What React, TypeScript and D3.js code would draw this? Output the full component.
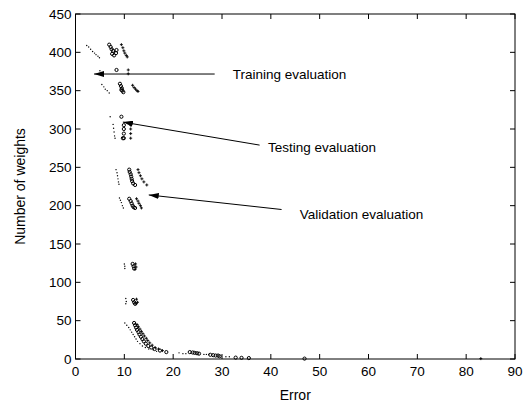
import React from 'react';
import * as d3 from 'd3';

// training evaluation: tiny dots
const trainingPoints: [number, number][] = [
  [2.3, 409], [2.7, 407], [3.1, 404], [3.5, 401], [3.9, 399], [4.2, 397], [4.6, 395], [4.9, 393],
  [5.0, 376],
  [5.4, 358], [5.8, 355], [6.1, 352], [6.5, 350], [6.9, 347],
  [7.1, 316], [7.7, 306], [7.8, 301], [7.9, 296], [8.0, 291], [8.1, 288],
  [8.3, 247], [8.5, 243], [8.6, 239], [8.7, 235], [8.8, 231], [8.9, 228],
  [9.0, 210], [9.2, 207], [9.4, 204], [9.6, 200], [9.8, 197],
  [10.0, 124], [10.1, 121], [10.1, 118],
  [10.3, 79], [10.4, 75], [10.3, 72],
  [10.1, 47], [10.5, 44], [10.9, 41], [11.2, 38], [11.5, 35], [11.8, 32], [12.1, 29], [12.4, 26],
  [12.7, 23], [13.2, 20], [13.7, 17], [14.3, 15], [15.0, 13], [15.9, 12], [16.6, 10],
  [21.2, 8], [22.0, 7], [22.6, 7], [26.3, 6], [26.8, 6], [27.3, 6], [30.8, 3], [31.5, 3],
];

// testing evaluation: small circles
const testingPoints: [number, number][] = [
  [6.9, 410], [7.2, 407], [7.4, 404], [7.7, 402], [7.5, 398], [7.9, 396], [8.3, 399], [8.4, 403],
  [8.4, 377],
  [9.1, 359], [9.3, 356], [9.5, 353], [9.4, 351], [9.6, 350], [9.8, 348],
  [9.4, 316], [9.9, 305], [9.9, 300], [9.9, 294], [9.9, 288], [9.7, 288],
  [11.0, 247], [11.1, 244], [11.3, 241], [11.4, 238], [11.5, 235], [11.6, 232], [11.8, 229], [12.2, 227],
  [11.0, 209], [11.3, 206], [11.5, 203], [11.7, 200], [11.9, 198], [12.2, 197],
  [11.7, 124], [11.9, 121], [12.0, 118],
  [11.8, 77], [12.0, 74], [12.2, 72],
  [12.0, 47], [12.2, 44], [12.4, 41], [12.6, 38], [12.9, 35], [13.1, 32], [13.4, 29], [13.7, 26],
  [14.0, 23], [14.4, 20], [14.9, 17], [15.5, 15], [16.2, 13], [17.3, 11], [18.6, 9],
  [23.4, 9], [24.0, 8.5], [24.4, 8], [24.9, 7.5], [25.3, 7], [27.6, 5.5], [28.2, 5], [28.7, 4.5],
  [29.2, 4.5], [29.5, 3.6], [32.8, 1.8], [34.0, 1.5], [35.5, 1.2], [46.9, 0.5],
];

// validation evaluation: plus signs
const validationPoints: [number, number][] = [
  [9.4, 410], [9.7, 406], [9.9, 402], [10.1, 399], [10.4, 396], [10.6, 394],
  [10.8, 377], [10.8, 372],
  [11.7, 357], [12.0, 354], [12.3, 352], [12.6, 350], [12.8, 349],
  [11.3, 305], [11.3, 300], [11.3, 294], [11.3, 288],
  [12.8, 247], [13.0, 243], [13.3, 239], [13.6, 235], [14.0, 231], [14.6, 227],
  [12.5, 209], [12.8, 206], [13.0, 203], [13.3, 200], [13.5, 197],
  [12.3, 124], [12.4, 120], [12.2, 117],
  [12.5, 78], [12.7, 74], [12.4, 72],
  [12.6, 45], [12.9, 42], [13.2, 39], [13.5, 36], [13.8, 33], [14.1, 30], [14.5, 27], [14.8, 24],
  [15.2, 21], [15.7, 18], [16.3, 15], [17.0, 13], [17.8, 11],
  [83.0, 0.5],
];

const xTicks = [0, 10, 20, 30, 40, 50, 60, 70, 80, 90];
const yTicks = [0, 50, 100, 150, 200, 250, 300, 350, 400, 450];

// annotation: label, text anchor point, arrow tail, arrow tip (data coords)
const annotations = [
  { label: 'Training evaluation', text: [32.2, 371.7], from: [28.5, 371.7], to: [3.8, 371.7] },
  { label: 'Testing evaluation', text: [39.4, 276.5], from: [37.7, 279], to: [9.7, 309] },
  { label: 'Validation evaluation', text: [45.9, 189], from: [42.2, 195], to: [15.0, 214] },
];

const W = 523;
const H = 408;
const margin = { top: 14, right: 8, bottom: 49, left: 75.5 };
const font = 'Liberation Sans, Arial, Helvetica, sans-serif';

export default function App() {
  const x = d3.scaleLinear().domain([0, 90]).range([margin.left, W - margin.right]);
  const y = d3.scaleLinear().domain([0, 450]).range([H - margin.bottom, margin.top]);
  const [x0, x1] = x.range();
  const [y0, y1] = y.range();
  const tick = 5;

  return (
    <svg width={W} height={H} style={{ position: 'absolute', left: 0, top: 0, background: '#fff' }}>
      <defs>
        <marker id="head" viewBox="0 0 10 6" refX="10" refY="3" markerWidth="10" markerHeight="6"
          markerUnits="userSpaceOnUse" orient="auto">
          <path d="M0,0 L10,3 L0,6 Z" fill="#000" />
        </marker>
      </defs>

      {/* points */}
      <g>
        {trainingPoints.map((d, i) => (
          <circle key={'t' + i} cx={x(d[0])} cy={y(d[1])} r={0.7} fill="#000" />
        ))}
        {testingPoints.map((d, i) => (
          <circle key={'s' + i} cx={x(d[0])} cy={y(d[1])} r={1.6} fill="none" stroke="#000" strokeWidth={1} />
        ))}
        {validationPoints.map((d, i) => (
          <path key={'v' + i}
            d={`M${x(d[0]) - 1.5},${y(d[1])}h3M${x(d[0])},${y(d[1]) - 1.5}v3`}
            stroke="#000" strokeWidth={0.9} />
        ))}
      </g>

      {/* annotations */}
      {annotations.map((a) => (
        <g key={a.label}>
          <line x1={x(a.from[0])} y1={y(a.from[1])} x2={x(a.to[0])} y2={y(a.to[1])}
            stroke="#000" strokeWidth={1} markerEnd="url(#head)" />
          <text x={x(a.text[0])} y={y(a.text[1])} dy="0.35em" fontFamily={font} fontSize={13.5}>
            {a.label}
          </text>
        </g>
      ))}

      {/* box and inward ticks */}
      <rect x={x0} y={y1} width={x1 - x0} height={y0 - y1} fill="none" stroke="#000" strokeWidth={1} />
      {xTicks.map((t) => (
        <g key={'x' + t}>
          <line x1={x(t)} x2={x(t)} y1={y0} y2={y0 - tick} stroke="#000" />
          <line x1={x(t)} x2={x(t)} y1={y1} y2={y1 + tick} stroke="#000" />
          <text x={x(t)} y={y0 + 17} textAnchor="middle" fontFamily={font} fontSize={13.5}>{t}</text>
        </g>
      ))}
      {yTicks.map((t) => (
        <g key={'y' + t}>
          <line x1={x0} x2={x0 + tick} y1={y(t)} y2={y(t)} stroke="#000" />
          <line x1={x1} x2={x1 - tick} y1={y(t)} y2={y(t)} stroke="#000" />
          <text x={x0 - 4} y={y(t)} dy="0.35em" textAnchor="end" fontFamily={font} fontSize={13.5}>{t}</text>
        </g>
      ))}

      <text x={(x0 + x1) / 2} y={H - 8} textAnchor="middle" fontFamily={font} fontSize={14}>Error</text>
      <text transform={`translate(25,${(y0 + y1) / 2}) rotate(-90)`} textAnchor="middle"
        fontFamily={font} fontSize={14}>Number of weights</text>
    </svg>
  );
}
